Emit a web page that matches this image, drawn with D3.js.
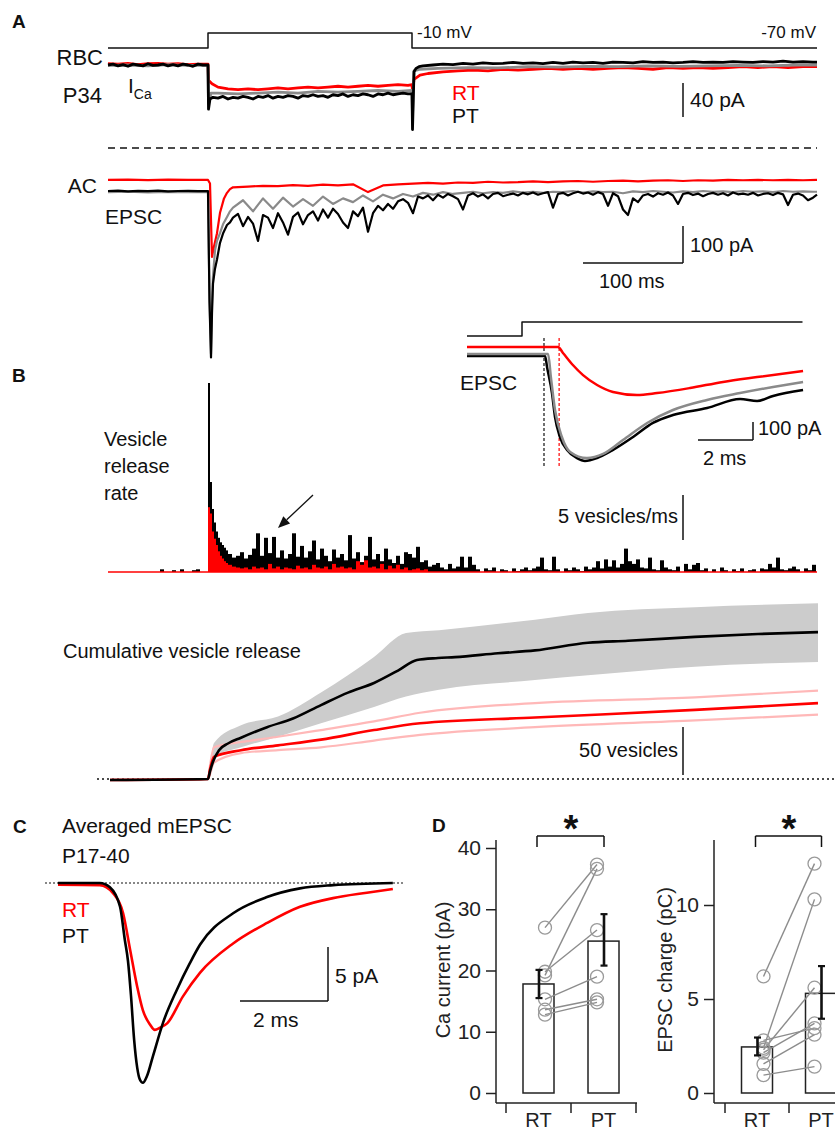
<!DOCTYPE html>
<html>
<head>
<meta charset="utf-8">
<script src="https://cdn.jsdelivr.net/npm/d3@7/dist/d3.min.js"></script>
<style>
body { margin: 0; background: #fff; }
svg { display: block; font-family: "Liberation Sans", Arial, sans-serif; }
</style>
</head>
<body>
<script>
// helpers to turn sampled values into [time, value] pairs / histogram bins
function seg(t0, dt, vals) { return vals.map(function (v, i) { return [t0 + i * dt, v]; }); }
function bins(t0, dt, vals) { return vals.map(function (v, i) { return { t0: t0 + i * dt, t1: t0 + (i + 1) * dt, v: v }; }); }
function pairs(ts, vs) { return ts.map(function (t, i) { return [t, vs[i]]; }); }

// ---------- A: voltage step (mV)
var stepT = [-100, 0, 0, 204, 204, 609];
var stepV = [-70, -70, -10, -10, -70, -70];

// ---------- A: Ca current (pA), t in ms from pulse onset
var icaBlack = [].concat(
    seg(-100, 5, [0, 1, -1, 0.5, -1.5, 1, 0, -1, 1.5, -0.5, 0, 1, -1, 0.5, -1, 1, 0, -1.5, 1, 0]),
    [[0, 0], [0.5, -52], [2, -40]],
    seg(5, 5, [-38, -39, -37, -40, -38, -39, -37, -38, -40, -37, -38, -36, -39, -37, -38, -36, -37, -39, -36, -37,
        -35, -37, -36, -38, -35, -36, -34, -37, -35, -36, -34, -35, -37, -34, -35, -33, -35, -34, -33, -34]),
    [[204, -34], [204.5, -76], [206, -8], [208, -4], [211, -2]],
    seg(215, 10, [-1, 0, 1, 0.5, 2, 1, 2.5, 1.5, 2, 3, 2, 2.5, 1.5, 3, 2, 3.5, 2.5, 3, 2, 3.5,
        3, 2.5, 4, 3, 3.5, 2.5, 3, 4, 3, 3.5, 3, 4, 3.5, 3, 4, 3.5, 4.5, 3.5, 4, 3.5]),
    [[609, 3.5]]
);
var icaRed = [].concat(
    seg(-100, 10, [1.5, 1, 2, 0.5, 1.5, 2, 1, 1.5, 0.5, 1]),
    [[0, 1], [0.5, -18], [4, -22]],
    seg(10, 10, [-26, -28, -29, -28, -29, -28, -27, -28, -27, -26, -27, -26, -25, -26, -25, -24, -25, -24, -23, -24]),
    [[204, -23], [204.5, -30], [206, -17], [212, -12]],
    seg(220, 15, [-10, -8, -7, -6, -7, -5, -6, -5, -4, -5, -4, -5, -4, -3, -4, -5, -3, -4, -3, -4, -3, -2, -3, -2, -3, -2]),
    [[609, -2]]
);
var icaGray = [].concat(
    seg(-100, 20, [-0.5, 0, -1, 0.5, -0.5]),
    [[0, -0.5], [0.5, -45], [3, -33]],
    seg(10, 20, [-33, -34, -33, -32, -33, -31, -32, -31, -30, -31]),
    [[204, -30], [204.5, -60], [206, -7], [212, -5]],
    seg(230, 30, [-4, -3, -3.5, -2, -2.5, -1.5, -2, -1, -1.5, -1, -0.5, -1, 0]),
    [[609, 0]]
);

// ---------- A: AC EPSC (pA)
var epscBlack = [].concat(
    seg(-100, 10, [0, 1, -1, 0.5, -0.5, 1, -1, 0, 0.5, -0.5]),
    [[-1, 0], [0, 0], [1.5, -300], [3, -450], [4, -330], [5, -250], [7, -210], [9, -185], [12, -140], [15, -115], [19, -92], [22, -85]],
    seg(25, 5, [-72, -62, -95, -70, -88, -135, -65, -72, -100, -60, -85, -118, -70, -58, -90, -65,
        -55, -80, -50, -72, -48, -62, -85, -100, -55, -68, -45, -110, -60, -40, -52, -35, -48, -28, -22, -32,
        -60, -15, -20, -12, -25, -10, -18, -8, -14, -22, -50, -12, -6, -15, -9, -20, -8, -5, -14, -10,
        -7, -12, -5, -9, -4, -10, -6, -3, -45, -8, -5, -12, -6, -2, -7, -4, -10, -3, -8, -40,
        -6, -14, -50, -65, -20, -30, -12, -8, -15, -6, -10, -4, -12, -35, -8, -5, -11, -7, -14, -8,
        -5, -10, -6, -12, -4, -9, -7, -10, -5, -12, -8, -6, -11, -5, -9, -38, -10, -7, -12, -25, -18]),
    [[609, -10]]
);
var epscGray = [].concat(
    seg(-100, 20, [-3, -2, -3.5, -2.5, -3]),
    [[0, -3], [1.5, -290], [3, -440], [4, -300], [5, -230], [7, -160], [9, -135], [12, -114], [15, -90], [19, -70], [22, -55]],
    seg(25, 10, [-45, -25, -55, -20, -48, -18, -42, -22, -40, -15, -35, -20, -30, -12, -28, -10, -20, -8, -15, -5,
        -10, -3, -8, -5, -2, -6, -3, -5, -1, -4, -2, -5, -2, -3, 0, -4, -1, -3, -2, -6,
        -1, -3, 0, -2, -4, -1, -3, 0, -2, -1, -3, 0, -2, -1, -3, 0, -2, -1, -2]),
    [[609, -2]]
);
var epscRed = [].concat(
    seg(-100, 20, [30, 31, 29.5, 30.5, 30]),
    [[0, 30], [2, 20], [4, -178], [6, -150], [9, -114], [12, -59], [16, -20], [19, -5], [22, 5]],
    seg(25, 15, [10, 12, 14, 13, 16, 14, 17, 15, 18, -3, 15, 18, 20, 22, 20, 23, 22, 25, 23, 24,
        26, 24, 26, 27, 25, 27, 28, 26, 28, 29, 27, 29, 28, 30, 29, 30, 29, 30, 29]),
    [[609, 30]]
);

// ---------- B inset: EPSC onset (ms, pA)
var insetStepT = [0, 2, 2, 12.2];
var insetStepV = [0, 0, 1, 1];
var insetBlack = pairs([0, 2.84, 2.91, 3.09, 3.2, 3.38, 3.64, 4.0, 4.29, 4.73, 5.31, 6.04, 6.76, 7.49, 8.73, 9.93, 10.55, 11.13, 12.22],
    [0, 0, -61, -206, -339, -450, -522, -567, -583, -567, -522, -450, -372, -328, -289, -239, -250, -222, -189]);
var insetGray = pairs([0, 2.95, 3.05, 3.2, 3.45, 3.75, 4.36, 4.95, 5.67, 6.55, 7.49, 8.73, 9.93, 11.13, 12.22],
    [11, 11, -117, -300, -450, -533, -567, -544, -467, -372, -300, -244, -206, -172, -144]);
var insetRed = pairs([0, 3.31, 3.49, 3.85, 4.22, 4.73, 5.31, 6.18, 6.91, 8.11, 9.31, 10.55, 12.22],
    [50, 50, 17, -50, -106, -161, -200, -217, -206, -178, -144, -117, -83]);
var latencyBlack = 2.8, latencyRed = 3.35;

// ---------- B: vesicle release rate (vesicles/ms)
var ratePreBlack = [0, 0, 0, 0.3, 0, 0, 0.2, 0, 0.3, 0, 0, 0.2, 0.3, 0, 0];
var rateEarlyBlack = [21, 10, 7, 5.5, 4.5, 3.8, 3.3, 3, 2.7, 2.4];
var rateLateBlack = [
    2.0, 1.6, 1.8, 2.2, 1.5, 1.9, 2.6, 4.3, 1.8, 3.8,
    2.1, 3.9, 1.6, 2.4, 1.5, 2.0, 4.3, 1.7, 2.9, 1.6,
    2.3, 3.5, 1.4, 2.6, 1.8, 1.2, 2.5, 1.6, 2.0, 1.3,
    4.1, 1.5, 2.2, 1.1, 1.8, 3.9, 1.4, 2.0, 1.2, 2.6,
    1.4, 1.0, 1.8, 0.9, 2.2, 2.0, 1.6, 2.8, 1.1, 1.3,
    0.6, 0.8, 1.0, 0.5, 0.3, 0.9, 0.4, 0.6, 1.7, 0.5,
    1.7, 0.8, 0.3, 0, 0.4, 0.2, 0.5, 0, 0.3, 0.2,
    0, 0.4, 0.1, 0.3, 0.5, 0.2, 0.4, 0.6, 1.6, 0.3,
    0.2, 1.7, 0.3, 0, 0.4, 0.2, 0.5, 0.3, 0.1, 0.6,
    0.3, 0.5, 1.2, 0.4, 1.4, 0.6, 1.3, 0.5, 0.9, 2.6,
    1.2, 0.9, 1.4, 0.5, 0.4, 1.6, 0.3, 0.2, 1.3, 0.5,
    0.3, 0.2, 0.6, 0, 0.9, 0.3, 0.8, 1.0, 0.2, 0.4,
    0, 0.3, 0, 0.5, 0.2, 0, 0.3, 0.1, 0.4, 0,
    0.2, 0.3, 0, 0.4, 0.3, 0.9, 0.5, 1.6, 0.3, 0.2,
    0.4, 0.6, 0.3, 0, 0.4, 0.2, 0.8];
var rateEarlyRed = [7.2, 6.5, 4.5, 3.7, 3, 2.3, 1.8, 1.5, 1.2, 1.0];
var rateLateRed = [
    0.8, 0.6, 0.5, 0.4, 0.5, 0.3, 0.6, 0.4, 0.5, 0.3,
    0.9, 0.4, 0.6, 0.3, 0.5, 0.4, 0.3, 0.7, 0.4, 0.5,
    0.3, 0.8, 0.5, 0.4, 0.6, 0.3, 0.9, 0.5, 0.6, 0.4,
    0.5, 0.3, 1.2, 0.8, 1.3, 0.5, 0.6, 0.4, 0.9, 0.3,
    0.7, 0.4, 0.8, 0.3, 0.5, 0.2, 0.3, 0.4, 0.2, 0.3];

// ---------- B: cumulative vesicle release (vesicles)
var cumBlack = pairs([-98, 0, 2, 5, 11, 20, 33, 59, 85, 113, 140, 166, 190, 209, 230, 247, 290, 327, 380, 420, 487, 550, 610],
    [-1, 0, 8, 18, 30, 37, 43, 54, 63, 77, 90, 100, 113, 124, 126, 127, 131, 134, 142, 144, 148, 151, 153]);
var bandT = [-98, 0, 2, 6, 33, 70, 113, 166, 198, 231, 327, 380, 487, 610];
var bandUpper = [0, 0, 14, 37.5, 56, 65, 90, 127, 152, 155, 166, 173, 179, 183];
var bandLower = [0, 0, 6, 23, 33, 44, 58, 75, 86, 93, 103, 108, 117, 122];
var redT = [-98, 0, 2, 6, 33, 70, 113, 166, 212, 327, 487, 610];
var cumRed = [-1, 0, 10, 23, 30, 35, 41, 51, 58, 64, 72, 79];
var cumRedUpper = [-1, 0, 14, 33, 38.5, 44, 51, 60, 69, 79, 85, 92];
var cumRedLower = [-1, 0, 5, 17, 27, 30, 33, 40, 46, 54, 61, 67];

// ---------- C: averaged mEPSC (ms, pA)
var mBlack = pairs([0, 0.95, 1.18, 1.41, 1.52, 1.59, 1.66, 1.73, 1.8, 1.86, 1.93, 2.02, 2.16, 2.39, 2.7, 3.0, 3.23, 3.98, 4.75, 5.5, 6.25, 7.61],
    [0, 0, -0.4, -2.2, -5.3, -7.2, -10.5, -14.5, -17.1, -18.2, -18.5, -17.9, -16.0, -12.9, -9.9, -7.4, -5.7, -2.8, -1.3, -0.5, -0.2, 0]);
var mRed = pairs([0, 0.95, 1.25, 1.48, 1.64, 1.8, 1.93, 2.09, 2.2, 2.32, 2.48, 2.84, 3.23, 3.98, 4.75, 5.5, 6.25, 7.02, 7.61],
    [-0.15, -0.2, -0.93, -2.8, -6.2, -9.6, -11.8, -13.1, -13.6, -13.4, -13.0, -10.5, -8.3, -5.6, -3.7, -2.2, -1.4, -0.9, -0.55]);

// ---------- D: paired comparisons
var groups = ["RT", "PT"];
var caMean = [17.8, 24.8];
var caErr = [[15.5, 20.1], [20.8, 29.2]];
var caRT = [27, 19.2, 19.8, 15.3, 13.6, 12.8];
var caPT = [37.3, 36.6, 26.6, 19, 15.3, 14.8];
var caTicks = [0, 10, 20, 30, 40];
var qMean = [2.45, 5.3];
var qErr = [[2.0, 2.95], [3.95, 6.75]];
var qRT = [6.2, 2.4, 2.3, 2.15, 2.8, 1.55, 0.95];
var qPT = [12.2, 10.3, 5.6, 3.7, 3.45, 3.1, 1.4];
var qTicks = [0, 5, 10];

var RED = "#ff0000", GRAY = "#8a8a8a";

var svg = d3.select("body").append("svg")
    .attr("width", 835)
    .attr("height", 1132);

function txt(s, px, py, size, o) {
    o = o || {};
    return svg.append("text")
        .attr("x", px).attr("y", py)
        .attr("font-size", size + "px")
        .attr("font-weight", o.bold ? "bold" : null)
        .attr("text-anchor", o.anchor || "start")
        .attr("fill", o.color || "#111")
        .text(s);
}
function ln(x1, y1, x2, y2, w, dash) {
    return svg.append("line")
        .attr("x1", x1).attr("y1", y1).attr("x2", x2).attr("y2", y2)
        .attr("stroke", "#111").attr("stroke-width", w || 1.5)
        .attr("stroke-dasharray", dash || null);
}
function trace(data, xs, ys, color, w, curve) {
    var g = d3.line()
        .x(function (d) { return xs(d[0]); })
        .y(function (d) { return ys(d[1]); });
    if (curve) g.curve(curve);
    svg.append("path").datum(data)
        .attr("d", g)
        .attr("fill", "none")
        .attr("stroke", color)
        .attr("stroke-width", w)
        .attr("stroke-linejoin", "round");
}

// shared time axis for A and B (100 ms = 100 px)
var x = d3.scaleLinear().domain([-100, 609]).range([108, 817]);

// ================= A =================
txt("A", 12, 28, 19, { bold: true });
var yV = d3.scaleLinear().domain([-70, -10]).range([48, 33]);
trace(pairs(stepT, stepV), x, yV, "#111", 1.5);
txt("-10 mV", 417, 38, 17);
txt("-70 mV", 816, 38, 17, { anchor: "end" });

var yIca = d3.scaleLinear().domain([0, -40]).range([65, 99]);
trace(icaRed, x, yIca, RED, 2.8);
trace(icaGray, x, yIca, GRAY, 2.8);
trace(icaBlack, x, yIca, "#000", 2.8);
txt("RBC", 103, 65, 22, { anchor: "end" });
txt("P34", 102, 103, 22, { anchor: "end" });
var ica = txt("I", 128, 93, 21);
ica.append("tspan").attr("font-size", "14px").attr("dy", 6).text("Ca");
txt("RT", 452, 100, 21, { color: RED });
txt("PT", 452, 123, 21);
ln(683, 83, 683, 83 + (yIca(-40) - yIca(0)), 1.5);
txt("40 pA", 690, 107, 21);

ln(108, 148, 817, 148, 1.5, "7,5");

var yE = d3.scaleLinear().domain([0, -100]).range([191, 228]);
trace(epscRed, x, yE, RED, 2.2);
trace(epscGray, x, yE, GRAY, 2.2);
trace(epscBlack, x, yE, "#000", 2.2);
txt("AC", 97, 193, 21, { anchor: "end" });
txt("EPSC", 105, 224, 21);
ln(683, 263 - (yE(-100) - yE(0)), 683, 263, 1.5);
ln(683 - (x(100) - x(0)), 263, 683, 263, 1.5);
txt("100 pA", 690, 252, 20);
txt("100 ms", 599, 288, 20);

// ================= B =================
txt("B", 12, 382, 19, { bold: true });
var yR = d3.scaleLinear().domain([0, 5]).range([572, 527]);
var blackBins = [].concat(bins(-60, 4, ratePreBlack), bins(0, 2, rateEarlyBlack), bins(20, 4, rateLateBlack));
var redBins = [].concat(bins(0, 2, rateEarlyRed), bins(20, 4, rateLateRed));
svg.append("g").selectAll("rect").data(blackBins).enter().append("rect")
    .attr("x", function (d) { return x(d.t0); })
    .attr("width", function (d) { return x(d.t1) - x(d.t0); })
    .attr("y", function (d) { return yR(d.v); })
    .attr("height", function (d) { return yR(0) - yR(d.v); })
    .attr("fill", "#000");
svg.append("g").selectAll("rect").data(redBins).enter().append("rect")
    .attr("x", function (d) { return x(d.t0); })
    .attr("width", function (d) { return x(d.t1) - x(d.t0); })
    .attr("y", function (d) { return yR(d.v); })
    .attr("height", function (d) { return yR(0) - yR(d.v); })
    .attr("fill", RED);
ln(108, yR(0), 817, yR(0), 1.5).attr("stroke", RED);
txt("Vesicle", 104, 446, 20);
txt("release", 104, 473, 20);
txt("rate", 104, 500, 20);
ln(313, 495, 286.7, 519.8, 1.3);
svg.append("polygon").attr("points", "278,528 290.1,523.4 283.3,516.2").attr("fill", "#111");
ln(683, 540 - (yR(0) - yR(5)), 683, 540, 1.5);
txt("5 vesicles/ms", 678, 523, 20, { anchor: "end" });

// inset
var xIn = d3.scaleLinear().domain([0, 2]).range([467, 522]);
var yIn = d3.scaleLinear().domain([0, -100]).range([356, 374]);
var yInV = d3.scaleLinear().domain([0, 1]).range([336, 322]);
trace(pairs(insetStepT, insetStepV), xIn, yInV, "#111", 1.5);
ln(xIn(latencyBlack), 338, xIn(latencyBlack), 467, 1.2, "3,2");
ln(xIn(latencyRed), 338, xIn(latencyRed), 467, 1.2, "3,2").attr("stroke", RED);
trace(insetRed, xIn, yIn, RED, 2.5, d3.curveMonotoneX);
trace(insetBlack, xIn, yIn, "#000", 2.5, d3.curveMonotoneX);
trace(insetGray, xIn, yIn, GRAY, 2.5, d3.curveMonotoneX);
txt("EPSC", 460, 390, 21);
ln(753, 440 - (yIn(-100) - yIn(0)), 753, 440, 1.5);
ln(753 - (xIn(2) - xIn(0)), 440, 753, 440, 1.5);
txt("100 pA", 758, 435, 20);
txt("2 ms", 703, 465, 20);

// cumulative
var yC = d3.scaleLinear().domain([0, 50]).range([779, 731]);
svg.append("path").datum(bandT.map(function (t, i) { return [t, bandLower[i], bandUpper[i]]; }))
    .attr("d", d3.area()
        .x(function (d) { return x(d[0]); })
        .y0(function (d) { return yC(d[1]); })
        .y1(function (d) { return yC(d[2]); })
        .curve(d3.curveMonotoneX))
    .attr("fill", "#cccccc");
ln(97, yC(0), 835, yC(0), 1.3, "2,3");
trace(pairs(redT, cumRedUpper), x, yC, "#ffb8b8", 2.2, d3.curveMonotoneX);
trace(pairs(redT, cumRedLower), x, yC, "#ffb8b8", 2.2, d3.curveMonotoneX);
trace(pairs(redT, cumRed), x, yC, RED, 2.6, d3.curveMonotoneX);
trace(cumBlack, x, yC, "#000", 2.6, d3.curveMonotoneX);
txt("Cumulative vesicle release", 63, 658, 20);
ln(683, 775 - (yC(0) - yC(50)), 683, 775, 1.5);
txt("50 vesicles", 678, 757, 20, { anchor: "end" });

// ================= C =================
txt("C", 13, 833, 19, { bold: true });
txt("Averaged mEPSC", 62, 833, 21);
txt("P17-40", 62, 863, 21);
var xM = d3.scaleLinear().domain([0, 2]).range([58, 146]);
var yM = d3.scaleLinear().domain([0, -5]).range([883, 937]);
ln(45, yM(0), 403, yM(0), 1.2, "2,2");
trace(mRed, xM, yM, RED, 2.6, d3.curveMonotoneX);
trace(mBlack, xM, yM, "#000", 2.6, d3.curveMonotoneX);
txt("RT", 62, 917, 21, { color: RED });
txt("PT", 62, 943, 21);
ln(328, 1001 - (yM(-5) - yM(0)), 328, 1001, 1.5);
ln(328 - (xM(2) - xM(0)), 1001, 328, 1001, 1.5);
txt("5 pA", 335, 983, 21);
txt("2 ms", 253, 1027, 21);

// ================= D =================
txt("D", 432, 832, 19, { bold: true });

function barPanel(o) {
    var y = o.y;
    var xb = d3.scaleBand().domain(groups).range(o.band);
    var bw = xb.bandwidth();
    var cx = function (i) { return xb(groups[i]) + bw / 2; };

    var ax = svg.append("g")
        .attr("transform", "translate(" + o.x0 + ",0)")
        .call(d3.axisLeft(y).tickValues(o.ticks).tickSize(10).tickPadding(5));
    ax.attr("font-family", null);
    ax.select(".domain").remove();
    ax.selectAll("line").attr("stroke", "#222").attr("stroke-width", 1.5);
    ax.selectAll("text").attr("font-size", "21px").attr("fill", "#222");
    ln(o.x0, 840, o.x0, 1103, 1.5).attr("stroke", "#222");
    ln(o.x0, 1103, o.band[1] + 1, 1103, 1.5).attr("stroke", "#222");
    [xb("RT"), xb("PT"), o.band[1]].forEach(function (t) {
        ln(t, 1103, t, 1113, 1.5).attr("stroke", "#222");
    });
    groups.forEach(function (g, i) { txt(g, cx(i), 1127, 20, { anchor: "middle", color: "#222" }); });

    svg.append("g").selectAll("rect").data(o.mean).enter().append("rect")
        .attr("x", function (d, i) { return cx(i) - 15.5; })
        .attr("width", 31)
        .attr("y", function (d) { return y(d); })
        .attr("height", function (d) { return y(0) - y(d); })
        .attr("fill", "#fff").attr("stroke", "#222").attr("stroke-width", 1.5);

    o.rt.forEach(function (v, i) {
        ln(cx(0) + 6.5, y(v), cx(1) - 6.5, y(o.pt[i]), 1.4).attr("stroke", "#8c8c8c");
    });
    var pts = o.rt.map(function (v) { return [cx(0) + 6.5, v]; })
        .concat(o.pt.map(function (v) { return [cx(1) - 6.5, v]; }));
    svg.append("g").selectAll("circle").data(pts).enter().append("circle")
        .attr("cx", function (d) { return d[0]; })
        .attr("cy", function (d) { return y(d[1]); })
        .attr("r", 6.5)
        .attr("fill", "none").attr("stroke", "#9a9a9a").attr("stroke-width", 1.3);

    o.err.forEach(function (e, i) {
        var c = cx(i) + 0.5;
        ln(c, y(e[0]), c, y(e[1]), 2.6);
        ln(c - 3.5, y(e[0]), c + 3.5, y(e[0]), 2.2);
        ln(c - 3.5, y(e[1]), c + 3.5, y(e[1]), 2.2);
    });

    ln(cx(0) - 1.5, 836, cx(1) + 0.5, 836, 1.5);
    ln(cx(0) - 1.5, 836, cx(0) - 1.5, 847, 1.5);
    ln(cx(1) + 0.5, 836, cx(1) + 0.5, 847, 1.5);
    txt("*", (cx(0) + cx(1)) / 2, 842, 38, { anchor: "middle", bold: true });

    svg.append("text")
        .attr("transform", "translate(" + o.labelX + ",970) rotate(-90)")
        .attr("text-anchor", "middle")
        .attr("font-size", "20px")
        .attr("fill", "#222")
        .text(o.label);
}

barPanel({
    y: d3.scaleLinear().domain([0, 40]).range([1093, 848]),
    x0: 496, band: [506, 636], ticks: caTicks,
    mean: caMean, err: caErr, rt: caRT, pt: caPT,
    label: "Ca current (pA)", labelX: 450
});
barPanel({
    y: d3.scaleLinear().domain([0, 10]).range([1093, 905]),
    x0: 714, band: [725, 853], ticks: qTicks,
    mean: qMean, err: qErr, rt: qRT, pt: qPT,
    label: "EPSC charge (pC)", labelX: 672
});
</script>
</body>
</html>
